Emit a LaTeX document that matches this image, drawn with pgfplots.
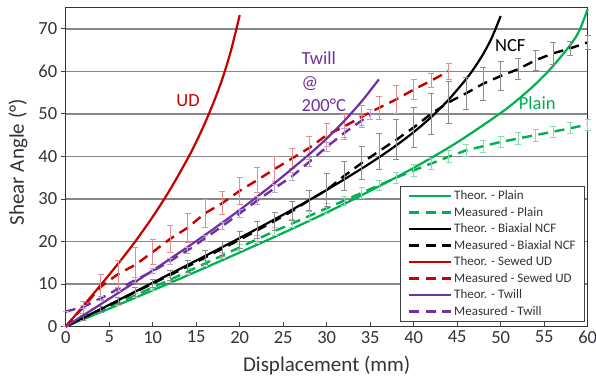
\documentclass[border=0pt]{standalone}
\usepackage{pgfplots}
\pgfplotsset{compat=1.18}
\usepackage{pgfplotstable}
\usepackage{fontspec}
\setmainfont{Carlito}
\definecolor{cgreen}{RGB}{0,176,80}
\definecolor{cred}{RGB}{200,0,0}
\definecolor{cpurple}{RGB}{112,48,160}
\definecolor{ctext}{RGB}{50,50,60}
\definecolor{cgrid}{RGB}{135,135,135}

\pgfplotstableread{
x y
0 0
5 4.2
10 8.5
15 12.9
20 17.4
25 22.0
30 26.8
35 31.9
40 37.3
45 43.3
50 50.2
52 53.4
54 57.0
56 61.2
58 66.2
59 69.4
60 74.6
}\theoplain

\pgfplotstableread{
x y e
0 0 0
2 1.8 0.3
4 3.6 0.4
6 5.5 0.5
8 7.3 0.5
10 9.2 0.6
12 11.0 0.6
14 12.9 0.7
16 14.8 0.7
18 16.7 0.8
20 18.6 0.8
22 20.5 0.9
24 22.4 0.9
26 24.2 1.0
28 26.0 1.0
30 27.8 1.1
32 29.6 1.1
34 31.4 1.2
36 33.2 1.2
38 35.0 1.3
40 36.7 1.3
42 38.3 1.3
44 39.9 1.4
46 41.4 1.4
48 42.4 1.4
50 43.4 1.4
52 44.2 1.4
54 45.0 1.4
56 45.8 1.3
58 46.6 1.3
60 47.5 1.3
}\measplain

\pgfplotstableread{
x y
0 0
5 5.1
10 10.3
15 15.5
20 20.8
25 26.3
30 32.1
35 38.4
38 42.6
40 45.7
42 49.2
44 53.3
46 58.1
47 60.9
48 64.1
49 68.0
50 73.0
}\theoncf

\pgfplotstableread{
x y e
0 0 0
2 2 0.5
4 4 0.7
6 6 0.8
8 8.1 1.0
10 10.1 1.0
12 12.1 1.2
14 14.1 1.4
16 16.2 1.6
18 18.3 1.8
20 20.4 2.0
22 22.6 2.0
24 24.8 2.1
26 27.1 2.2
28 29.7 2.4
30 32.1 3.9
32 35.4 3.5
34 38.4 3.9
36 41.2 4.3
38 43.9 4.7
40 46.8 4.7
42 50.0 4.9
44 52.7 4.9
46 54.8 3.7
48 57.1 3.9
50 58.9 3.5
52 60.5 2.5
54 62.6 2.3
56 64.2 2.5
58 65.4 1.6
60 66.8 1.6
}\measncf

\pgfplotstableread{
x y
0 0
2 4.8
4 9.7
6 14.7
8 20.0
10 25.8
12 32.2
14 39.4
15 43.4
16 47.8
17 52.7
18 58.2
19 64.9
20 73.2
}\theoud

\pgfplotstableread{
x y e
0 0 0
2 4.5 1.5
4 9.3 3.0
6 12.3 3.3
8 14.5 4.1
10 17.5 3.0
12 20.6 3.2
14 23.2 3.5
16 26.6 3.3
18 29.0 2.7
20 31.9 3.2
22 34.4 2.9
24 37.0 2.9
26 39.5 2.3
28 42.0 2.7
30 45.0 2.7
32 47.0 2.9
34 49.3 2.6
36 51.4 2.7
38 53.4 3.2
40 55.7 2.4
42 57.8 1.6
44 60.0 1.8
}\measud

\pgfplotstableread{
x y
0 0
4 5.2
8 10.5
12 15.9
16 21.5
20 27.4
24 33.7
28 40.5
30 44.2
32 48.3
34 52.9
36 58.1
}\theotwill

\pgfplotstableread{
x y e
0 3.5 0
2 4.6 0.4
4 6.6 0.5
6 8.8 0.5
8 10.9 0.6
10 13.0 0.6
12 15.4 0.7
14 17.9 0.7
16 20.7 0.8
18 23.6 0.8
20 26.6 0.9
22 29.6 0.9
24 32.5 1.0
26 35.3 1.0
28 38.7 1.0
30 42.2 1.1
32 45.5 1.1
34 48.4 1.2
35 49.8 1.2
}\meastwill

\begin{document}
\begin{tikzpicture}
\path[use as bounding box] (-65.7pt,-53.3pt) rectangle (530.3pt,326.5pt);
\begin{axis}[
  at={(0pt,0pt)}, anchor=south west,
  scale only axis, width=522pt, height=319pt,
  xmin=0, xmax=60, ymin=0, ymax=75,
  xtick={0,5,...,60}, ytick={0,10,...,70},
  tick pos=left, xtick align=inside, ytick align=outside,
  major tick length=5pt,
  tick style={color=black!75, line width=0.8pt},
  ymajorgrids, grid style={color=cgrid, line width=1.6pt},
  axis line style={color=black!80, line width=1pt},
  /pgf/number format/assume math mode=true,
  ticklabel style={font=\fontsize{18.5}{20}\selectfont, text=ctext},
  xticklabel style={yshift=-1pt},
  xlabel={Displacement (mm)},
  ylabel={Shear Angle (°)},
  every axis x label/.style={at={(rel axis cs:0.5,0)}, anchor=base, yshift=-45.3pt,
    font=\fontsize{21}{24}\selectfont, text=ctext},
  every axis y label/.style={at={(rel axis cs:0,0.515)}, rotate=90, anchor=center, yshift=47.7pt,
    font=\fontsize{21}{24}\selectfont, text=ctext},
  legend style={at={(rel axis cs:0.995,0.015)}, anchor=south east,
    draw=black!75, line width=0.8pt, fill=white,
    font=\fontsize{13}{15.5}\selectfont, text=ctext,
    inner xsep=7pt, inner ysep=2.5pt, row sep=2pt},
  legend cell align=left,
  theo/.style={line width=2.2pt, smooth},
  meas/.style={line width=2.4pt, dash pattern=on 10pt off 6.5pt},
  legend image code/.code={\draw[#1] (0pt,0pt) -- (42pt,0pt);},
  clip=false,
]
\addplot[theo, cgreen, forget plot] table[x=x,y=y] {\theoplain};
\addlegendimage{theo, cgreen}\addlegendentry{Theor. - Plain}
\addlegendimage{meas, cgreen}\addlegendentry{Measured - Plain}
\addlegendimage{theo, black}\addlegendentry{Theor. - Biaxial NCF}
\addlegendimage{meas, black}\addlegendentry{Measured - Biaxial NCF}
\addlegendimage{theo, cred}\addlegendentry{Theor. - Sewed UD}
\addlegendimage{meas, cred}\addlegendentry{Measured - Sewed UD}
\addlegendimage{theo, cpurple}\addlegendentry{Theor. - Twill}
\addlegendimage{meas, cpurple}\addlegendentry{Measured - Twill}

\addplot[meas, cgreen, forget plot,
  error bars/.cd, y dir=both, y explicit,
  error bar style={solid, line width=0.8pt, color=cgreen!45},
  error mark options={solid, rotate=90, mark size=3pt, line width=0.8pt, color=cgreen!45}]
  table[x=x,y=y,y error=e] {\measplain};
\addplot[theo, black, forget plot] table[x=x,y=y] {\theoncf};
\addplot[meas, black, forget plot,
  error bars/.cd, y dir=both, y explicit,
  error bar style={solid, line width=0.8pt, color=black!45},
  error mark options={solid, rotate=90, mark size=3pt, line width=0.8pt, color=black!45}]
  table[x=x,y=y,y error=e] {\measncf};
\addplot[theo, cred, forget plot] table[x=x,y=y] {\theoud};
\addplot[meas, cred, forget plot,
  error bars/.cd, y dir=both, y explicit,
  error bar style={solid, line width=0.8pt, color=cred!45},
  error mark options={solid, rotate=90, mark size=3pt, line width=0.8pt, color=cred!45}]
  table[x=x,y=y,y error=e] {\measud};
\addplot[theo, cpurple, forget plot] table[x=x,y=y] {\theotwill};
\addplot[meas, cpurple, forget plot,
  error bars/.cd, y dir=both, y explicit,
  error bar style={solid, line width=0.8pt, color=cpurple!45},
  error mark options={solid, rotate=90, mark size=3pt, line width=0.8pt, color=cpurple!45}]
  table[x=x,y=y,y error=e] {\meastwill};

\node[text=cred, font=\fontsize{18.5}{20}\selectfont] at (axis cs:14.06,53.0) {UD};
\node[text=cpurple, font=\fontsize{18.5}{23.3}\selectfont, align=left, anchor=north west, inner sep=0pt]
  at (axis cs:27.1,64.6) {Twill\\@\\200°C};
\node[text=black, font=\fontsize{18.5}{20}\selectfont] at (axis cs:51.1,66.1) {NCF};
\node[text=cgreen, font=\fontsize{18.5}{20}\selectfont] at (axis cs:54.2,52.5) {Plain};
\end{axis}
\end{tikzpicture}
\end{document}
